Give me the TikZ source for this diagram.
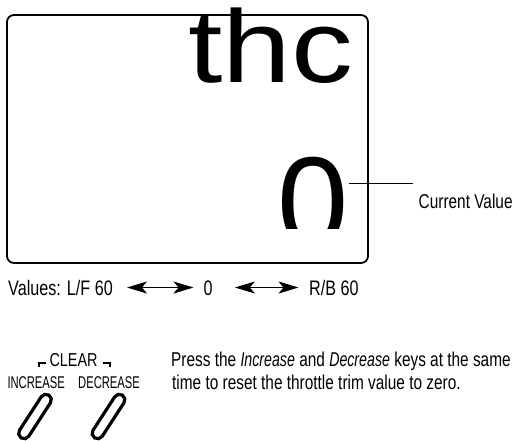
\documentclass[tikz,border=0pt]{standalone}
\usepackage{fontspec}
\usepackage{tikz}
\usetikzlibrary{positioning,calc}
\usetikzlibrary{arrows.meta}
\newfontfamily\plainsans{Liberation Sans}
\newfontfamily\widesans{Liberation Sans}[FakeStretch=1.2]
\newfontfamily\narrowsans{Liberation Sans}[FakeStretch=0.77,ItalicFeatures={FakeStretch=0.71}]
\newfontfamily\keysans{Liberation Sans}[FakeStretch=0.66]
\definecolor{InkBlack}{RGB}{0,0,0}

\begin{document}
\begin{tikzpicture}[x=1pt,y=-1pt,
		lbl/.style={inner sep=0pt,anchor=base west,text=InkBlack},
		rowtxt/.style={lbl,font=\narrowsans\fontsize{21}{21}\selectfont,text height=15pt,text depth=0pt},
		parline/.style={lbl,font=\narrowsans\fontsize{20}{23}\selectfont},
		keylbl/.style={lbl,font=\keysans\fontsize{17}{17}\selectfont},
		twoway/.style={line width=1pt,{Stealth[length=20pt,width=12pt,inset=5pt]}-{Stealth[length=20pt,width=12pt,inset=5pt]}},
		keycap/.style={draw=InkBlack,line width=3.2pt,rounded corners=5.5pt,minimum width=51pt,minimum height=11pt,inner sep=0pt,rotate=57},
		brk/.style={line width=2.4pt}]
				\useasboundingbox (0,0) rectangle (518,440);
				
				\node[draw=InkBlack,line width=1.8pt,rounded corners=7pt,minimum width=361pt,minimum height=248pt,inner sep=0pt] (screen) at (187.5,139) {};
				\node[lbl,font=\widesans\fontsize{103}{103}\selectfont] (title) at (188,82) {thc};
				\begin{scope}
					\clip (0,0) rectangle (518,228);
					\node[lbl,font=\plainsans\fontsize{128}{128}\selectfont] (zero) at (277.6,246) {0};
				\end{scope}
				
				\coordinate (lead) at (413,183);
				\draw[line width=0.9pt] (zero.east |- lead) -- (lead);
				\node[lbl,font=\narrowsans\fontsize{20}{20}\selectfont] (current) at (418.5,208) {Current Value};
				
				\node[rowtxt] (vals) at (8,295) {Values: L/F 60};
				\node[rowtxt] (mid) at (203.5,295) {0};
				\node[rowtxt] (rb) at (309,295) {R/B 60};
				\draw[twoway,shorten <=14pt,shorten >=10pt] (vals.east) -- (mid.west);
				\draw[twoway,shorten <=22pt,shorten >=10.5pt] (mid.east) -- (rb.west);
				
				\node[lbl,font=\narrowsans\fontsize{18.7}{18.7}\selectfont] (clear) at (49.3,366.7) {CLEAR};
				\draw[brk] ($(clear.base west)+(-10.3,0.6)$) -- ++(0,-4.6) -- ++(7.4,0);
				\draw[brk] ($(clear.base east)+(5,-4)$) -- ++(7.4,0) -- ++(0,4.6);
				\node[keylbl] (inclbl) at (7.3,388.3) {INCREASE};
				\node[keylbl] (declbl) at (78,388.3) {DECREASE};
				\node[keycap] (inckey) at (35,416.5) {};
				\node[keycap] (deckey) at (108.5,416.5) {};
				
				\node[parline] (press) at (171,366.5) {Press the \textit{Increase} and \textit{Decrease} keys at the same};
				\node[parline] (reset) at (172,389) {time to reset the throttle trim value to zero.};
			\end{tikzpicture}
\end{document}
